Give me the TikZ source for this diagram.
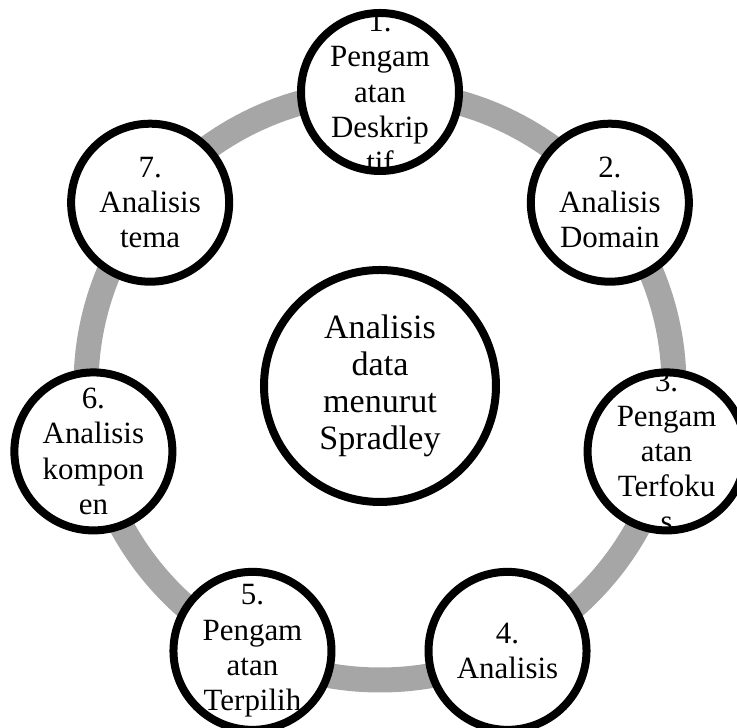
\documentclass[tikz,border=0pt]{standalone}
\usepackage{fontspec}
\setmainfont{Liberation Serif}
\usetikzlibrary{shadows}

\definecolor{ringgray}{RGB}{166,166,166}
\newcommand{\steplabelfont}{\fontsize{17.6}{20}\selectfont}
\newcommand{\hublabelfont}{\fontsize{19.4}{21}\selectfont}

\tikzset{
  stepcircle/.style={circle, draw=black, line width=0.16cm, fill=white,
    minimum size=3.16cm, inner sep=0pt,
    drop shadow={opacity=0.2, shadow xshift=0pt, shadow yshift=-0.06cm}},
  hubcircle/.style={stepcircle, minimum size=4.64cm, align=center,
    font=\hublabelfont},
  steptext/.style={align=center, font=\steplabelfont, inner sep=0pt},
  ringline/.style={draw=ringgray, line width=0.5cm}
}

\begin{document}
\begin{tikzpicture}
    \useasboundingbox (-7.6,-6.84) rectangle (7.14,7.72);

    \draw[ringline] (0,0) circle (5.88);

    \node[hubcircle] (hub) at (0,0) {Analisis\\data\\menurut\\Spradley};

    \node[stepcircle] (s1) at (90:5.88) {};
    \node[stepcircle] (s2) at (38.57:5.88) {};
    \node[stepcircle] (s3) at (-12.86:5.88) {};
    \node[stepcircle] (s4) at (-64.29:5.88) {};
    \node[stepcircle] (s5) at (-115.71:5.88) {};
    \node[stepcircle] (s6) at (-167.14:5.88) {};
    \node[stepcircle] (s7) at (141.43:5.88) {};

    \node[steptext] (t1) at (s1) {1.\\Pengam\\atan\\Deskrip\\tif};
    \node[steptext] (t2) at (s2) {2.\\Analisis\\Domain};
    \node[steptext] (t3) at (s3) {3.\\Pengam\\atan\\Terfoku\\s};
    \node[steptext] (t4) at (s4) {4.\\Analisis};
    \node[steptext] (t5) at (s5) {5.\\Pengam\\atan\\Terpilih};
    \node[steptext] (t6) at (s6) {6.\\Analisis\\kompon\\en};
    \node[steptext] (t7) at (s7) {7.\\Analisis\\tema};
\end{tikzpicture}
\end{document}
